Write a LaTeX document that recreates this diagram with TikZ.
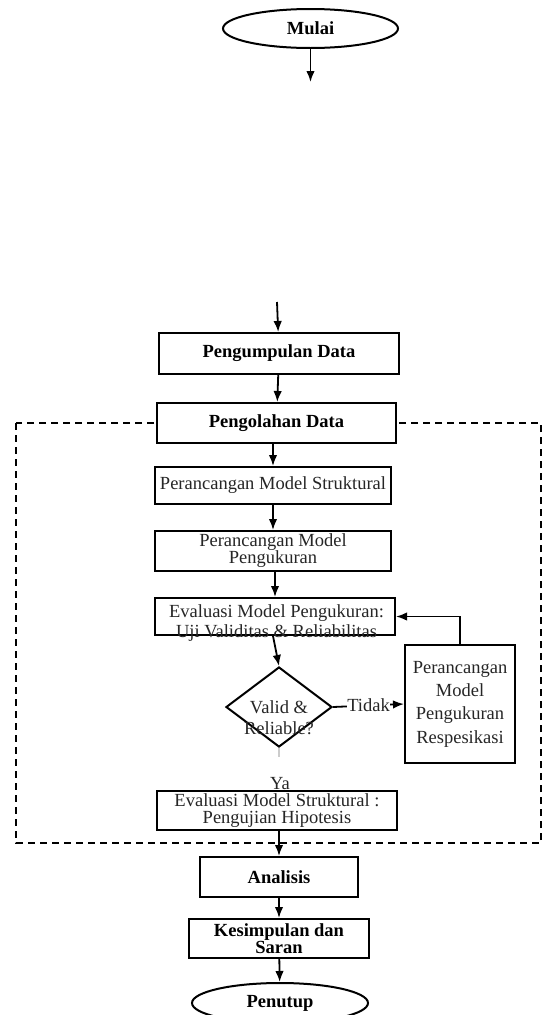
\documentclass[tikz,border=0pt]{standalone}
\usepackage{fontspec}
\setmainfont{Liberation Serif}
\usetikzlibrary{shapes.geometric,arrows.meta}
\begin{document}
\begin{tikzpicture}[x=1pt,y=-1pt,
  txt/.style={font=\fontsize{18.5pt}{17pt}\selectfont, text=black!85},
  btxt/.style={font=\fontsize{18.5pt}{17pt}\selectfont\bfseries},
  box/.style={draw, line width=2pt, fill=white, inner sep=0pt, align=center},
  term/.style={draw, ellipse, line width=2pt, fill=white, inner sep=0pt,
               minimum width=175pt, minimum height=39pt, btxt},
  arr/.style={line width=1.8pt, -{Latex[length=11pt,width=8.5pt]}},
  frame/.style={line width=1.4pt, dash pattern=on 7pt off 5pt}]
\useasboundingbox (0,0) rectangle (542,1015);
% dashed processing frame
\draw[frame] (16,423) rectangle (541,843);
% start
\node[term] (start) at (310.5,28.5) {Mulai};
\coordinate (a1) at (310.5,82);
\draw[arr] (start) -- (a1);
\coordinate (a2) at (277,302);
\node[box, btxt, minimum width=240pt, minimum height=41pt] (p1) at (279,353.5) {Pengumpulan Data};
\draw[arr] (a2) -- (p1);
\node[box, btxt, minimum width=239pt, minimum height=40pt] (p2) at (276.5,423) {Pengolahan Data};
\draw[arr] (p1) -- (p2);
\node[box, txt, minimum width=236pt, minimum height=37pt] (s1) at (273,485.5) {Perancangan Model Struktural};
\draw[arr] (p2.south -| s1) -- (s1);
\node[box, txt, minimum width=236pt, minimum height=40pt] (s2) at (273,551) {Perancangan Model\\Pengukuran};
\draw[arr] (s1) -- (s2);
\node[box, minimum width=240pt, minimum height=37pt] (ev1) at (275,616.5) {};
\node[txt, align=center, font=\fontsize{18.5pt}{20pt}\selectfont] (ev1t) at (276.5,623) {Evaluasi Model Pengukuran:\\Uji Validitas \& Reliabilitas};
\draw[arr] (s2.south -| ev1) -- (ev1);
% decision
\node[draw, diamond, line width=2pt, fill=white, inner sep=0pt, minimum width=106pt, minimum height=80pt] (d) at (279,707) {};
\node[txt, align=center, font=\fontsize{18.5pt}{21pt}\selectfont] (dt) at (279,718) {Valid \&\\Reliable?};
\draw[arr] ([xshift=-2pt]ev1.south) -- (d.north);
% respecification
\node[box, txt, minimum width=110pt, minimum height=118pt, font=\fontsize{18.5pt}{23.3pt}\selectfont] (r) at (460,704) {Perancangan\\Model\\Pengukuran\\Respesikasi};
\draw[arr] (d.east) -- node[txt, pos=0.5, fill=white, inner sep=0.5pt] (tidak) {Tidak} (r.west);
\draw[arr] (r.north) |- (ev1.east);
% yes branch
\coordinate (ya1) at (279,757);
\draw[gray!40, line width=1.8pt] (d.south) -- (ya1);
\node[txt, inner sep=0pt] (ya) at (280,784) {Ya};
\node[box, txt, minimum width=240pt, minimum height=39pt] (ev2) at (277,810.5) {Evaluasi Model Struktural :\\Pengujian Hipotesis};
% after frame
\node[box, btxt, minimum width=158pt, minimum height=40pt] (an) at (279,877) {Analisis};
\draw[arr] (ev2.south -| an) -- (an);
\node[box, btxt, minimum width=180pt, minimum height=39pt, font=\fontsize{18.5pt}{16pt}\selectfont\bfseries] (ks) at (279,938.5) {Kesimpulan dan\\Saran};
\draw[arr] (an) -- (ks);
\node[term, minimum width=176pt, minimum height=40pt] (end) at (280,1003) {Penutup};
\draw[arr] (ks) -- (end);
\end{tikzpicture}
\end{document}
